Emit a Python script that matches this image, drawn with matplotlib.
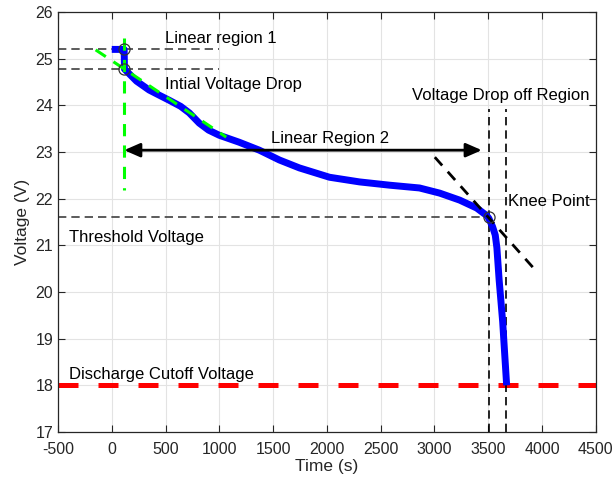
import numpy as np
import matplotlib.pyplot as plt

plt.rcParams.update({
    "font.family": ["Liberation Sans", "DejaVu Sans"],
    "font.size": 12,
    "xtick.direction": "in",
    "ytick.direction": "in",
    "xtick.top": True,
    "ytick.right": True,
    "axes.unicode_minus": False,
})

# discharge curve
time_s = [0, 115, 118, 230, 347, 440, 534, 640, 720, 813, 900, 999, 1185,
          1372, 1558, 1744, 2024, 2303, 2582, 2861, 3048, 3234, 3392, 3485,
          3505, 3540, 3565, 3580, 3601, 3634, 3671]
volt_v = [25.2, 25.2, 24.78, 24.52, 24.33, 24.22, 24.11, 23.98, 23.84,
          23.62, 23.47, 23.36, 23.21, 23.04, 22.83, 22.66, 22.46, 22.36,
          22.29, 22.23, 22.12, 21.97, 21.80, 21.64, 21.58, 21.40, 21.22,
          20.95, 20.26, 19.36, 18.0]

v_high, v_drop = 25.2, 24.78
t_init = 115
v_thresh, t_knee = 21.6, 3505
v_cutoff = 18.0
region_lo, region_hi = 3505, 3665
green_slope_t = [-150, 1064]
green_slope_v = [25.19, 23.32]
green_vert_v = [25.44, 22.19]
knee_slope_t = [3003, 3953]
knee_slope_v = [22.89, 20.43]
arrow_t = [115, 3440]
arrow_v = 23.04

fig = plt.figure(figsize=(6.13, 4.83), dpi=100)
ax = fig.add_axes([0.0946, 0.1056, 0.8774, 0.8694])

ax.set_xlim(-500, 4500)
ax.set_ylim(17, 26)
ax.set_xticks(np.arange(-500, 4501, 500))
ax.set_yticks(np.arange(17, 27, 1))
ax.grid(True, color="#e3e3e3", lw=0.8)
ax.set_axisbelow(True)

# cutoff line
ax.plot([-500, 4500], [v_cutoff, v_cutoff], color="red", lw=3.6,
        dashes=(4, 4), zorder=2)

# helper dashed lines
ax.plot([-500, 1000], [v_high, v_high], color="#404040", lw=1.2, dashes=(5, 3))
ax.plot([-500, 1000], [v_drop, v_drop], color="#404040", lw=1.2, dashes=(5, 3))
ax.plot([-500, t_knee], [v_thresh, v_thresh], color="#404040", lw=1.2,
        dashes=(5, 3))
for tv in (region_lo, region_hi):
    ax.plot([tv, tv], [17, 23.92], color="black", lw=1.2, dashes=(5, 3))

# discharge curve
ax.plot(time_s, volt_v, color="blue", lw=5.0, solid_capstyle="butt",
        solid_joinstyle="round", zorder=3)

# green fit lines
ax.plot(green_slope_t, green_slope_v, color="#00ff00", lw=2.2, dashes=(4, 3),
        zorder=4)
ax.plot([t_init, t_init], green_vert_v, color="#00ff00", lw=2.2,
        dashes=(4, 3), zorder=4)

# knee tangent
ax.plot(knee_slope_t, knee_slope_v, color="black", lw=2.0, dashes=(4, 3),
        zorder=4)

# markers
ax.plot([t_init, t_init, t_knee], [v_high, v_drop, v_thresh], "o",
        mfc="none", mec="#333333", ms=8, mew=0.9, zorder=5)

# linear region 2 arrow
ax.annotate("", xy=(arrow_t[0], arrow_v), xytext=(arrow_t[1], arrow_v),
            arrowprops=dict(arrowstyle="<|-|>,head_length=0.8,head_width=0.35",
                            color="black", lw=2.0, shrinkA=0, shrinkB=0))

ax.text(496, 25.44, "Linear region 1", va="center", ha="left")
ax.text(496, 24.44, "Intial Voltage Drop", va="center", ha="left")
ax.text(2025, 23.28, "Linear Region 2", va="center", ha="center")
ax.text(2787, 24.22, "Voltage Drop off Region", va="center", ha="left")
ax.text(3681, 21.93, "Knee Point", va="center", ha="left")
ax.text(-397, 21.16, "Threshold Voltage", va="center", ha="left")
ax.text(-397, 18.24, "Discharge Cutoff Voltage", va="center", ha="left")

ax.set_xlabel("Time (s)", fontsize=12.5, color="#262626", labelpad=2)
ax.set_ylabel("Voltage (V)", fontsize=12.5, color="#262626", labelpad=4)
ax.tick_params(labelsize=11.5, colors="#262626", length=5, width=0.8)
ax.tick_params(axis="x", pad=7)
for sp in ax.spines.values():
    sp.set_color("#262626")
    sp.set_linewidth(0.9)

fig.savefig("out.png", dpi=100)
